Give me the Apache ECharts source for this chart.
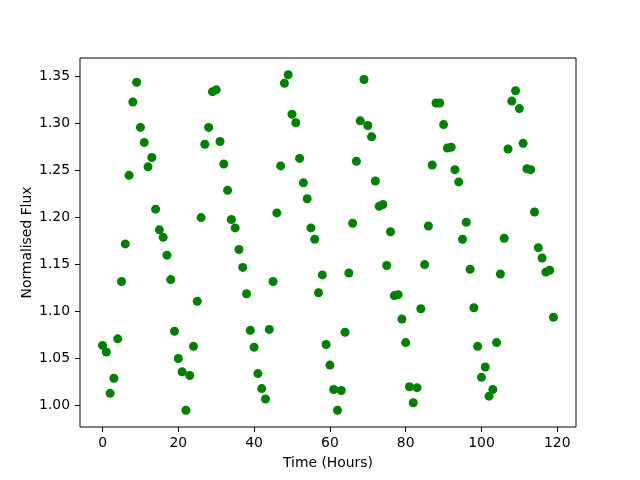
<!DOCTYPE html>
<html>
<head>
<meta charset="utf-8">
<script src="https://cdn.jsdelivr.net/npm/echarts@6/dist/echarts.min.js"></script>
<style>
  html, body { margin: 0; padding: 0; background: #fff; }
  #chart { width: 640px; height: 480px; }
</style>
</head>
<body>
<div id="chart"></div>
<script>
  // time in hours, one reading per hour
  var hours = [];
  for (var h = 0; h < 120; h++) hours.push(h);

  // normalised flux
  var flux = [
    1.064, 1.057, 1.013, 1.029, 1.071, 1.132, 1.172, 1.245, 1.323, 1.344,
    1.296, 1.280, 1.254, 1.264, 1.209, 1.187, 1.179, 1.160, 1.134, 1.079,
    1.050, 1.036, 0.995, 1.032, 1.063, 1.111, 1.200, 1.278, 1.296, 1.334,
    1.336, 1.281, 1.257, 1.229, 1.198, 1.189, 1.166, 1.147, 1.119, 1.080,
    1.062, 1.034, 1.018, 1.007, 1.081, 1.132, 1.205, 1.255, 1.343, 1.352,
    1.310, 1.301, 1.263, 1.237, 1.220, 1.189, 1.177, 1.120, 1.139, 1.065,
    1.043, 1.017, 0.995, 1.016, 1.078, 1.141, 1.194, 1.260, 1.303, 1.347,
    1.298, 1.286, 1.239, 1.212, 1.214, 1.149, 1.185, 1.117, 1.118, 1.092,
    1.067, 1.020, 1.003, 1.019, 1.103, 1.150, 1.191, 1.256, 1.322, 1.322,
    1.299, 1.274, 1.275, 1.251, 1.238, 1.177, 1.195, 1.145, 1.104, 1.063,
    1.030, 1.041, 1.010, 1.017, 1.067, 1.140, 1.178, 1.273, 1.324, 1.335,
    1.316, 1.279, 1.252, 1.251, 1.206, 1.168, 1.157, 1.142, 1.144, 1.094
  ];

  var xTicks = [0, 20, 40, 60, 80, 100, 120];
  var yTicks = [1.00, 1.05, 1.10, 1.15, 1.20, 1.25, 1.30, 1.35];

  // 5% padding like matplotlib's autoscale
  function padded(arr) {
    var lo = Math.min.apply(null, arr), hi = Math.max.apply(null, arr);
    var m = (hi - lo) * 0.05;
    return [lo - m, hi + m];
  }
  var xr = padded(hours), yr = padded(flux);

  var data = hours.map(function (t, i) { return [t, flux[i]]; });

  var font = 'DejaVu Sans';
  var chart = echarts.init(document.getElementById('chart'));
  chart.setOption({
    animation: false,
    backgroundColor: '#fff',
    grid: {
      left: 80, right: 64, top: 58, bottom: 53,
      show: true, borderColor: '#000', borderWidth: 1
    },
    xAxis: {
      type: 'value',
      min: xr[0], max: xr[1],
      name: 'Time (Hours)',
      nameLocation: 'middle',
      nameGap: 29,
      nameMoveOverlap: false,
      nameTextStyle: { color: '#000', fontFamily: font, fontSize: 13.9 },
      axisLine: { show: false, onZero: false },
      axisTick: {
        show: true, inside: false, length: 5,
        customValues: xTicks,
        lineStyle: { color: '#000', width: 1 }
      },
      axisLabel: {
        customValues: xTicks,
        margin: 9,
        color: '#000', fontFamily: font, fontSize: 13.9
      },
      splitLine: { show: false }
    },
    yAxis: {
      type: 'value',
      min: yr[0], max: yr[1],
      name: 'Normalised Flux',
      nameLocation: 'middle',
      nameGap: 46,
      nameMoveOverlap: false,
      nameTextStyle: { color: '#000', fontFamily: font, fontSize: 13.9 },
      axisLine: { show: false, onZero: false },
      axisTick: {
        show: true, inside: false, length: 5,
        customValues: yTicks,
        lineStyle: { color: '#000', width: 1 }
      },
      axisLabel: {
        customValues: yTicks,
        margin: 10,
        color: '#000', fontFamily: font, fontSize: 13.9,
        formatter: function (v) { return v.toFixed(2); }
      },
      splitLine: { show: false }
    },
    series: [{
      type: 'scatter',
      data: data,
      symbol: 'circle',
      symbolSize: 9,
      itemStyle: { color: '#008000', opacity: 1 }
    }]
  });
</script>
</body>
</html>
